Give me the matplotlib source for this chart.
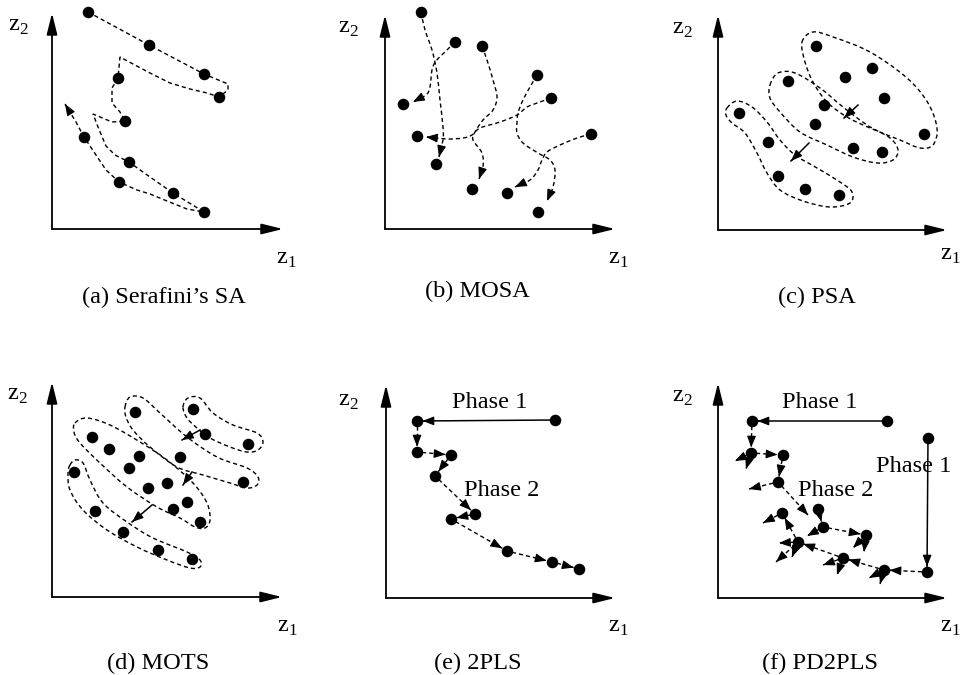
# -*- coding: utf-8 -*-
import numpy as np
import matplotlib
matplotlib.use('Agg')
import matplotlib.pyplot as plt
from matplotlib.path import Path
from matplotlib.patches import PathPatch

plt.rcParams['font.family'] = ['Liberation Serif', 'DejaVu Serif']
plt.rcParams['mathtext.fontset'] = 'custom'
plt.rcParams['mathtext.rm'] = 'Liberation Serif'

# Все координаты - в пикселях картинки (y вниз)
captions = ['(a) Serafini\u2019s SA', '(b) MOSA', '(c) PSA', '(d) MOTS', '(e) 2PLS', '(f) PD2PLS']
cap_x = [164, 477, 817, 158, 478, 820]
cap_y = [297, 291, 297, 663, 663, 663]
org_x = [52, 385, 718, 52, 386, 718]
org_y = [229, 229, 230, 597, 598, 598]
top_y = [13, 15, 15, 382, 385, 383]
end_x = [283, 615, 947, 282, 615, 947]
z2_x = [18, 348, 682, 17, 348, 682]
z2_y = [27, 29, 30, 395, 401, 398]
z1_x = [286, 618, 950, 287, 618, 950]
z1_y = [259, 259, 255, 627, 628, 628]

# (a) Serafini's SA: точки и траектория
a_x = [88, 149, 204, 219, 118, 125, 84, 129, 119, 173, 204]
a_y = [12, 45, 74, 97, 78, 121, 137, 162, 182, 193, 212]
a_path = [(88, 12), (149, 45), (204, 74), (228, 84), (228, 90), (219, 97), (207, 93), (190, 89),
          (170, 83), (150, 73), (133, 64), (120, 57), (118, 78), (112, 88), (112, 103), (120, 112),
          (125, 121), (112, 122), (93, 114), (98, 127), (106, 146), (115, 155), (129, 162),
          (150, 177), (173, 193), (204, 212), (187, 209), (167, 201), (150, 194), (137, 190),
          (119, 182), (106, 170), (94, 152), (84, 137), (76, 122), (65, 104)]

# (b) MOSA
b_x = [421, 455, 482, 537, 551, 591, 403, 417, 436, 472, 507, 538]
b_y = [12, 42, 46, 75, 98, 134, 104, 136, 164, 189, 193, 212]
b_paths = [
    [(421, 12), (425, 30), (432, 50), (437, 73), (440, 100), (443, 127), (443, 140), (439, 157)],
    [(455, 42), (447, 50), (436, 61), (432, 70), (430, 87), (426, 95), (413, 102)],
    [(482, 46), (487, 60), (493, 80), (497, 97), (493, 110), (483, 120), (475, 132), (473, 140),
     (482, 153), (483, 167), (479, 179)],
    [(537, 75), (530, 87), (523, 100), (518, 113), (517, 123), (517, 133), (523, 143), (538, 153),
     (550, 160), (555, 170), (553, 187), (547, 201)],
    [(551, 98), (540, 102), (527, 107), (517, 115), (500, 122), (480, 128), (472, 135), (463, 138),
     (447, 139), (426, 137)],
    [(591, 134), (577, 138), (560, 145), (547, 152), (542, 160), (538, 170), (530, 180), (515, 187)],
]

# (c) PSA: три группы
c_x = [816, 845, 872, 884, 924, 788, 824, 815, 853, 882, 739, 768, 778, 805, 839]
c_y = [46, 77, 68, 98, 134, 81, 105, 124, 148, 152, 113, 142, 176, 189, 195]
c_blobs = [
    [(802, 42), (813, 32), (833, 37), (870, 52), (907, 78), (928, 103), (937, 128), (933, 145),
     (920, 148), (900, 140), (870, 128), (847, 117), (827, 102), (813, 82), (805, 62)],
    [(770, 85), (778, 73), (795, 73), (820, 88), (843, 107), (867, 125), (890, 138), (898, 150),
     (893, 160), (877, 163), (853, 157), (827, 145), (800, 132), (780, 112), (770, 98)],
    [(727, 108), (737, 101), (752, 107), (767, 122), (780, 140), (795, 155), (817, 168), (840, 182),
     (852, 192), (850, 203), (830, 207), (803, 201), (780, 190), (767, 173), (757, 153), (745, 133),
     (732, 123), (726, 115)],
]
c_arrows = [((858, 105), (844, 118)), ((809, 143), (791, 161))]

# (d) MOTS: четыре группы
d_x = [193, 205, 248, 135, 180, 243, 92, 109, 139, 129, 167, 148, 187, 173, 200, 74, 95, 123, 158, 192]
d_y = [409, 434, 444, 412, 457, 482, 437, 449, 456, 468, 483, 488, 502, 509, 522, 472, 511, 532, 550, 559]
d_blobs = [
    [(183, 407), (188, 398), (200, 398), (213, 413), (233, 425), (257, 433), (263, 442), (258, 450),
     (247, 452), (230, 447), (210, 438), (197, 428), (187, 418)],
    [(125, 407), (130, 397), (143, 398), (160, 413), (187, 437), (217, 457), (247, 468), (258, 477),
     (257, 485), (247, 488), (230, 483), (203, 475), (177, 467), (150, 447), (133, 430), (126, 417)],
    [(75, 423), (87, 418), (110, 425), (140, 442), (167, 460), (193, 483), (207, 503), (210, 520),
     (205, 528), (195, 527), (180, 518), (157, 507), (127, 487), (100, 463), (80, 443), (74, 432)],
    [(70, 465), (75, 460), (83, 463), (90, 480), (103, 503), (127, 522), (153, 538), (187, 552),
     (200, 560), (200, 567), (190, 568), (167, 560), (137, 547), (107, 530), (83, 510), (70, 490),
     (68, 473)],
]
d_arrows = [((200, 430), (182, 440)), ((192, 472), (183, 485)), ((152, 505), (132, 522))]

# (e) 2PLS: точки по порядку прохода
e_x = [555, 417, 417, 451, 435, 475, 451, 507, 552, 579]
e_y = [420, 421, 452, 455, 476, 514, 519, 551, 562, 569]

# (f) PD2PLS
f_x = [887, 752, 928, 751, 783, 778, 782, 818, 823, 866, 798, 843, 884, 927]
f_y = [421, 421, 438, 453, 455, 482, 513, 509, 527, 535, 542, 558, 570, 572]
f_solid = [(0, 1), (2, 13)]
f_links = [(1, 3), (3, 4), (4, 5), (10, 6), (7, 8), (8, 9), (11, 10), (12, 11), (13, 12)]
f_stubs = [(3, 735, 461), (3, 746, 469), (5, 749, 489), (5, 808, 515), (6, 763, 523),
           (8, 807, 536), (9, 853, 548), (9, 864, 552), (10, 779, 543), (10, 776, 562),
           (10, 792, 557), (11, 823, 565), (11, 837, 575), (12, 869, 578), (12, 880, 584)]

phase_text = ['Phase 1', 'Phase 2', 'Phase 1', 'Phase 1', 'Phase 2']
phase_x = [490, 502, 820, 914, 836]
phase_y = [402, 491, 402, 466, 491]

DASH = (0, (3.0, 2.2))
FS = 17.6


def make_path(pts, closed=False, smooth=True):
    p = np.asarray(pts, float)
    if not smooth:
        return Path(p)
    if closed:
        ext = np.vstack([p[-1], p, p[0], p[1]])
    else:
        ext = np.vstack([p[0], p, p[-1]])
    verts, codes = [ext[1]], [Path.MOVETO]
    for i in range(1, len(ext) - 2):
        p0, p1, p2, p3 = ext[i - 1], ext[i], ext[i + 1], ext[i + 2]
        verts += [p1 + (p2 - p0) / 6, p2 - (p3 - p1) / 6, p2]
        codes += [Path.CURVE4] * 3
    return Path(verts, codes)


def dashed(ax, pts, closed=False, smooth=True):
    ax.add_patch(PathPatch(make_path(pts, closed, smooth), fill=False, ls=DASH, lw=1.0, ec='k'))


def head(ax, tail, tip):
    tail, tip = np.asarray(tail, float), np.asarray(tip, float)
    d = (tip - tail) / np.hypot(*(tip - tail))
    ax.annotate('', xy=tip, xytext=tip - d * 2,
                arrowprops=dict(arrowstyle='-|>,head_length=0.7,head_width=0.27', mutation_scale=10,
                                color='k', lw=0.8, shrinkA=0, shrinkB=0))


def link(ax, a, b, solid=False, gap_a=5.0, gap_b=5.5):
    a, b = np.asarray(a, float), np.asarray(b, float)
    u = (b - a) / np.hypot(*(b - a))
    p0, p1 = a + u * gap_a, b - u * gap_b
    ax.plot([p0[0], p1[0]], [p0[1], p1[1]], color='k', lw=1.1 if solid else 1.0,
            ls='-' if solid else DASH)
    head(ax, p0, p1)


fig = plt.figure(figsize=(9.69, 6.75), dpi=100)
ax = fig.add_axes([0, 0, 1, 1])
ax.set_xlim(0, 969)
ax.set_ylim(675, 0)
ax.axis('off')

# оси z1, z2 и подписи
for i in range(6):
    ap = dict(arrowstyle='-|>,head_length=1.3,head_width=0.32', mutation_scale=10,
              color='k', lw=1.3, shrinkA=0, shrinkB=0)
    ax.annotate('', xy=(org_x[i], top_y[i]), xytext=(org_x[i], org_y[i]), arrowprops=ap)
    ax.annotate('', xy=(end_x[i], org_y[i]), xytext=(org_x[i], org_y[i]), arrowprops=ap)
    ax.text(z2_x[i], z2_y[i], r'$\mathrm{z}_2$', fontsize=FS, ha='center', va='center')
    ax.text(z1_x[i], z1_y[i], r'$\mathrm{z}_1$', fontsize=FS, ha='center', va='center')
    ax.text(cap_x[i], cap_y[i], captions[i], fontsize=FS, ha='center', va='center')

dot = dict(ls='none', marker='o', ms=7.3, color='k', zorder=5)

# (a)
dashed(ax, a_path, smooth=False)
head(ax, a_path[-2], a_path[-1])
ax.plot(a_x, a_y, **dot)

# (b)
for pts in b_paths:
    dashed(ax, pts)
    head(ax, pts[-2], pts[-1])
ax.plot(b_x, b_y, **dot)

# (c)
for pts in c_blobs:
    dashed(ax, pts, closed=True)
for t, h in c_arrows:
    ax.plot([t[0], h[0]], [t[1], h[1]], color='k', lw=1.1)
    head(ax, t, h)
ax.plot(c_x, c_y, **dot)

# (d)
for pts in d_blobs:
    dashed(ax, pts, closed=True)
for t, h in d_arrows:
    ax.plot([t[0], h[0]], [t[1], h[1]], color='k', lw=1.1)
    head(ax, t, h)
ax.plot(d_x, d_y, **dot)

# (e)
for k in range(len(e_x) - 1):
    link(ax, (e_x[k], e_y[k]), (e_x[k + 1], e_y[k + 1]), solid=(k == 0))
ax.plot(e_x, e_y, **dot)

# (f)
for s, t in f_solid:
    link(ax, (f_x[s], f_y[s]), (f_x[t], f_y[t]), solid=True)
for s, t in f_links:
    link(ax, (f_x[s], f_y[s]), (f_x[t], f_y[t]))
for s, tx, ty in f_stubs:
    link(ax, (f_x[s], f_y[s]), (tx, ty), gap_b=0)
ax.plot(f_x, f_y, **dot)

for s, x, y in zip(phase_text, phase_x, phase_y):
    ax.text(x, y, s, fontsize=FS, ha='center', va='center')

plt.savefig('out.png', dpi=100)
